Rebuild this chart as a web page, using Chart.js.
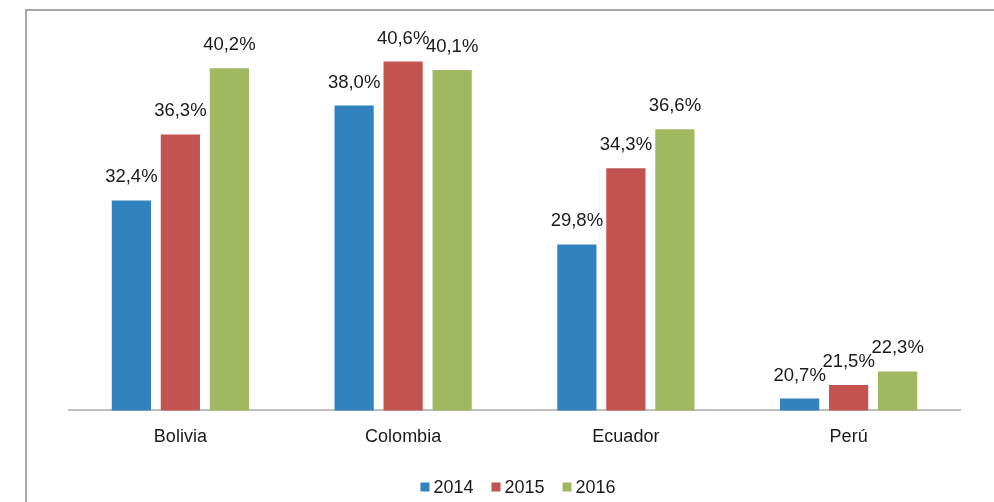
<!DOCTYPE html>
<html>
<head>
<meta charset="utf-8">
<script src="https://cdn.jsdelivr.net/npm/chart.js@4/dist/chart.umd.min.js"></script>
<style>
  html, body { margin: 0; padding: 0; background: #fff; overflow: hidden; }
  #wrap { position: relative; width: 994px; height: 502px; }
  #frame { position: absolute; left: 25px; top: 9px; width: 1000px; height: 600px;
           border-left: 2px solid #a6a6a6; border-top: 2px solid #a6a6a6; box-sizing: border-box; }
  #c { position: absolute; left: 0; top: 0; }
</style>
</head>
<body>
<div id="wrap">
  <div id="frame"></div>
  <canvas id="c" width="994" height="502"></canvas>
</div>
<script>
const categories = ['Bolivia', 'Colombia', 'Ecuador', 'Perú'];
const seriesNames = ['2014', '2015', '2016'];
const values2014 = [32.4, 38.0, 29.8, 20.7];
const values2015 = [36.3, 40.6, 34.3, 21.5];
const values2016 = [40.2, 40.1, 36.6, 22.3];
const colors = ['#3282c0', '#c25351', '#a0b860'];

const FONT = "'Liberation Sans', Arial, sans-serif";

function fmt(v) {
  return v.toFixed(1).replace('.', ',') + '%';
}

const labelPlugin = {
  id: 'barLabels',
  afterDatasetsDraw(chart) {
    const ctx = chart.ctx;
    ctx.save();
    ctx.font = '18.5px ' + FONT;
    ctx.fillStyle = '#1a1a1a';
    ctx.textAlign = 'center';
    ctx.textBaseline = 'alphabetic';
    chart.data.datasets.forEach((ds, i) => {
      const meta = chart.getDatasetMeta(i);
      meta.data.forEach((bar, j) => {
        ctx.fillText(fmt(ds.data[j]), bar.x, bar.y - 18);
      });
    });
    ctx.restore();
  }
};

const legendPlugin = {
  id: 'customLegend',
  afterDraw(chart) {
    const ctx = chart.ctx;
    ctx.save();
    ctx.font = '18px ' + FONT;
    ctx.textBaseline = 'middle';
    ctx.textAlign = 'left';
    const box = 9, gapText = 4, gapItem = 18;
    const dss = chart.data.datasets;
    const widths = dss.map(ds => box + gapText + ctx.measureText(ds.label).width);
    const total = widths.reduce((a, b) => a + b, 0) + gapItem * (dss.length - 1);
    let x = 518 - total / 2;
    const yc = 488;
    dss.forEach((ds, i) => {
      ctx.fillStyle = ds.backgroundColor;
      ctx.fillRect(x, yc - box / 2 - 1, box, box);
      ctx.fillStyle = '#1a1a1a';
      ctx.fillText(ds.label, x + box + gapText, yc);
      x += widths[i] + gapItem;
    });
    ctx.restore();
  }
};

new Chart(document.getElementById('c'), {
  type: 'bar',
  data: {
    labels: categories,
    datasets: [
      { label: seriesNames[0], data: values2014, backgroundColor: colors[0] },
      { label: seriesNames[1], data: values2015, backgroundColor: colors[1] },
      { label: seriesNames[2], data: values2016, backgroundColor: colors[2] }
    ]
  },
  options: {
    responsive: false,
    animation: false,
    devicePixelRatio: 1,
    layout: { padding: { left: 69, right: 34, top: 4, bottom: 38 } },
    datasets: { bar: { categoryPercentage: 0.66, barPercentage: 0.8 } },
    scales: {
      x: {
        grid: { display: false, drawTicks: false },
        border: { display: true, color: '#bfbfbf', width: 2 },
        ticks: { color: '#1a1a1a', font: { family: FONT, size: 18 }, padding: 16 }
      },
      y: {
        display: false,
        min: 20,
        max: 44
      }
    },
    plugins: {
      legend: { display: false },
      tooltip: { enabled: false }
    }
  },
  plugins: [labelPlugin, legendPlugin]
});
</script>
</body>
</html>
